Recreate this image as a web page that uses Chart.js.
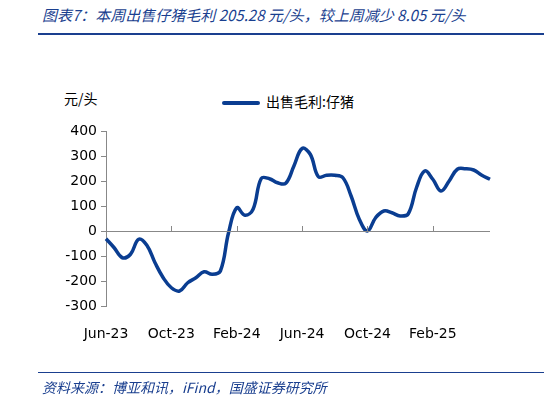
<!DOCTYPE html>
<html><head><meta charset="utf-8">
<script src="https://cdn.jsdelivr.net/npm/chart.js@4"></script>
<style>
body{margin:0;width:550px;height:402px;background:#fff;position:relative;font-family:"Noto Sans CJK SC",sans-serif;overflow:hidden}
#t{position:absolute;left:42px;top:4px;font-size:15px;font-style:italic;color:#1a3f8f;white-space:nowrap}
#l1{position:absolute;left:38px;top:33px;width:506px;height:2px;background:#1a3f8f}
#l2{position:absolute;left:38px;top:372px;width:506px;height:1px;background:#1a3f8f}
#s{position:absolute;left:42px;top:377px;font-size:14px;font-style:italic;color:#1a3f8f;white-space:nowrap}
#u{position:absolute;left:64px;top:88px;font-size:14px}
#lg{position:absolute;left:222px;top:91px;font-size:14px;white-space:nowrap}
#lg span{display:inline-block;width:38px;height:4px;background:#0a3d91;vertical-align:middle;margin-right:6px;border-radius:2px}
canvas{position:absolute;left:0;top:0}
</style></head><body>
<div id="t">图表7：本周出售仔猪毛利 205.28 元/头，较上周减少 8.05 元/头</div>
<div id="l1"></div>
<div id="u">元/头</div>
<div id="lg"><span></span>出售毛利:仔猪</div>
<canvas id="c" width="550" height="402" style="width:550px;height:402px"></canvas>
<div id="l2"></div>
<div id="s">资料来源：博亚和讯，iFind，国盛证券研究所</div>
<script>
const tickLabels=['Jun-23','Oct-23','Feb-24','Jun-24','Oct-24','Feb-25'];
const categories=[];
const months=['Jun-23','Jul-23','Aug-23','Sep-23','Oct-23','Nov-23','Dec-23','Jan-24','Feb-24','Mar-24','Apr-24','May-24','Jun-24','Jul-24','Aug-24','Sep-24','Oct-24','Nov-24','Dec-24','Jan-25','Feb-25','Mar-25','Apr-25','May-25'];
months.forEach(m=>{categories.push(m);categories.push(m+'b');});
const values=[-31,-67,-107,-93,-33,-57,-127,-187,-227,-240,-207,-187,-163,-173,-160,-7,93,63,87,210,209,193,191,260,330,307,217,223,223,213,140,47,0,53,80,73,60,69,173,240,207,160,200,247,249,244,223,207];
new Chart(document.getElementById('c'),{
type:'line',
data:{labels:categories,datasets:[{data:values,borderColor:'#0a3d91',borderWidth:3.5,pointRadius:0,tension:0.4,fill:false}]},
options:{responsive:false,animation:false,devicePixelRatio:1,
layout:{padding:{left:0,right:60,top:131,bottom:60}},
plugins:{legend:{display:false},tooltip:{enabled:false}},
scales:{
x:{grid:{display:false},border:{display:false},
 ticks:{autoSkip:false,maxRotation:0,padding:12,color:'#000',font:{size:14,family:'DejaVu Sans'},
  callback:(v,i)=>tickLabels.includes(categories[i])?categories[i]:''},
 afterFit:s=>{s.height=36;}},
y:{min:-300,max:400,ticks:{stepSize:100,color:'#000',padding:4,font:{size:14,family:'DejaVu Sans'}},
 border:{display:true,color:'#888'},
 grid:{color:c=>c.tick&&c.tick.value===0?'#888':'transparent',tickColor:'#888',tickLength:5,drawOnChartArea:true},
 afterFit:s=>{s.width=106;}}
}},
plugins:[{id:'xt',afterDraw(ch){const ctx=ch.ctx,x=ch.scales.x,y=ch.scales.y;const y0=y.getPixelForValue(0);
ctx.save();ctx.strokeStyle='#888';ctx.lineWidth=1;ctx.beginPath();ctx.moveTo(x.left,y0+0.5);ctx.lineTo(x.right,y0+0.5);
categories.forEach((c,i)=>{if(tickLabels.includes(c)){const px=Math.round(x.getPixelForValue(i))+0.5;ctx.moveTo(px,y0);ctx.lineTo(px,y0-5);}});
ctx.stroke();ctx.restore();}}]
});
</script></body></html>
